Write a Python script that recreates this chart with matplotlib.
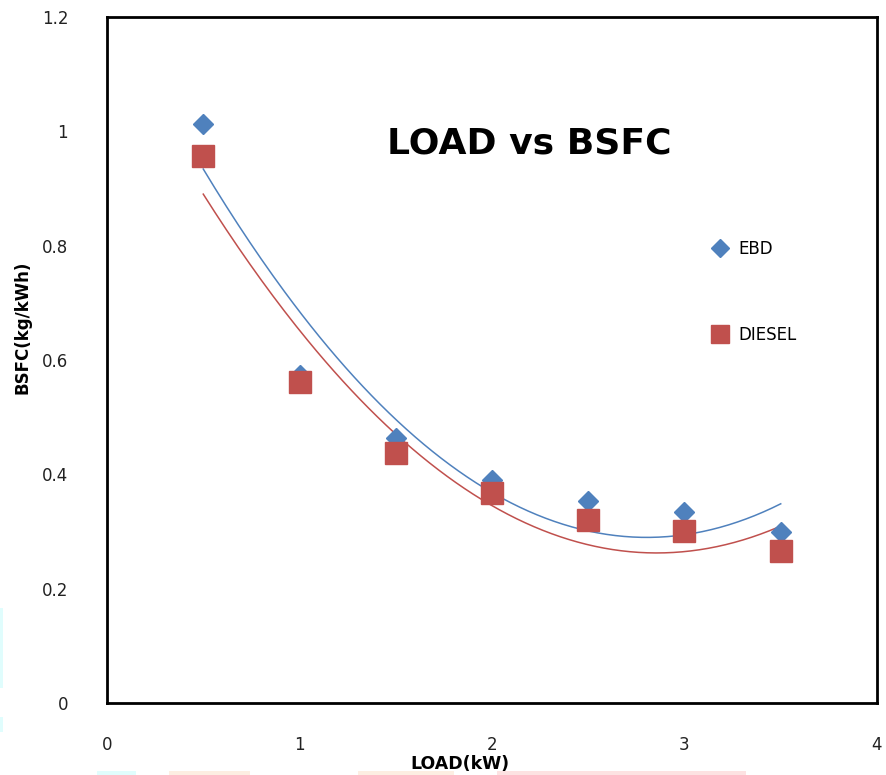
import numpy as np
import matplotlib
matplotlib.use('Agg')
import matplotlib.pyplot as plt
from matplotlib.patches import Rectangle

load = [0.5, 1.0, 1.5, 2.0, 2.5, 3.0, 3.5]
bsfc_ebd = [1.013, 0.574, 0.464, 0.390, 0.353, 0.334, 0.299]
bsfc_diesel = [0.957, 0.561, 0.437, 0.367, 0.320, 0.301, 0.266]

blue = '#4F81BD'
red = '#C0504D'

fig = plt.figure(figsize=(8.86, 7.75), dpi=100)
ax = fig.add_axes([0.1208, 0.0929, 0.869, 0.8851])

# polynomial (order 2) trendlines, like the spreadsheet
xs = np.linspace(load[0], load[-1], 200)
for ys, c in [(bsfc_ebd, blue), (bsfc_diesel, red)]:
    p = np.polyfit(load, ys, 2)
    ax.plot(xs, np.polyval(p, xs), color=c, lw=1.1, zorder=2)

ax.plot(load, bsfc_ebd, ls='none', marker='D', ms=10.5, color=blue,
        mec=blue, label='EBD', zorder=3)
ax.plot(load, bsfc_diesel, ls='none', marker='s', ms=15.5, color=red,
        mec=red, label='DIESEL', zorder=3)

ax.set_xlim(0, 4)
ax.set_ylim(0, 1.2)
ax.set_xticks([0, 1, 2, 3, 4])
ax.set_yticks([0, 0.2, 0.4, 0.6, 0.8, 1.0, 1.2])
ax.set_xticklabels(['0', '1', '2', '3', '4'])
ax.set_yticklabels(['0', '0.2', '0.4', '0.6', '0.8', '1', '1.2'])
ax.tick_params(length=0, labelsize=12, labelcolor='#222222')
ax.tick_params(axis='x', pad=24)
ax.tick_params(axis='y', pad=28)
for s in ax.spines.values():
    s.set_linewidth(2)
    s.set_color('black')

ax.set_xlabel('LOAD(kW)', fontsize=12.5, fontweight='bold')
ax.set_ylabel('BSFC(kg/kWh)', fontsize=12, fontweight='bold')
ax.xaxis.set_label_coords(0.4588, -0.076)
ax.yaxis.set_label_coords(-0.098, 0.548)

ax.text(0.548, 0.816, 'LOAD vs BSFC', transform=ax.transAxes, fontsize=26,
        fontweight='bold', ha='center', va='center')

ax.legend(loc='upper left', bbox_to_anchor=(0.764, 0.697), frameon=False,
          fontsize=12, labelspacing=4.1, handletextpad=0.5, handlelength=1.2,
          markerscale=0.85)

# faint watermark bits around the edges
for (x0, y0, w, h, c) in [(0, 608, 3, 80, '#e0fdfd'), (0, 717, 3, 15, '#e0fdfd'),
                          (97, 771, 39, 4, '#e0fdfd'), (169, 771, 81, 4, '#fdeee2'),
                          (358, 771, 96, 4, '#fdeee2'), (497, 771, 249, 4, '#fde2e2')]:
    fig.patches.append(Rectangle((x0 / 886, 1 - (y0 + h) / 775), w / 886, h / 775,
                                 transform=fig.transFigure, color=c, lw=0))

fig.savefig('out.png', dpi=100)
